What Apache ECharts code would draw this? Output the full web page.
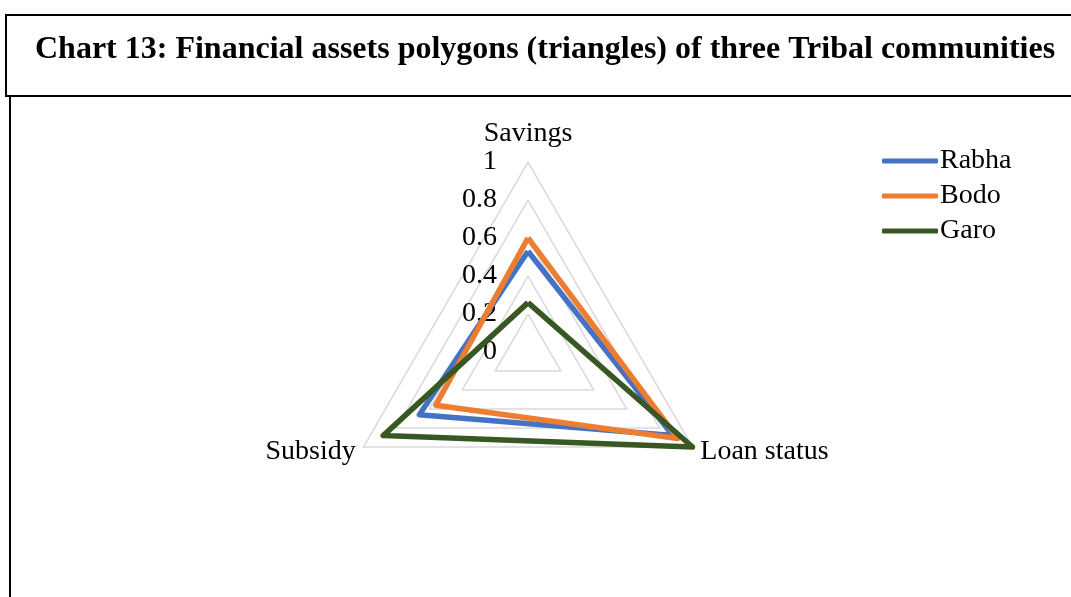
<!DOCTYPE html>
<html>
<head>
<meta charset="utf-8">
<script src="https://cdn.jsdelivr.net/npm/echarts@6/dist/echarts.min.js"></script>
<style>
  html, body { margin: 0; padding: 0; background: #fff; }
  #chart { width: 1071px; height: 597px; }
</style>
</head>
<body>
<div id="chart"></div>
<script>
// radar axes, in ECharts order (counter-clockwise from the top)
const axes = ["Savings", "Subsidy", "Loan status"];
const tickLabels = ["0", "0.2", "0.4", "0.6", "0.8", "1"];

const rabha = [0.53, 0.66, 0.88];
const bodo = [0.6, 0.56, 0.91];
const garo = [0.26, 0.88, 1.0];

const seriesNames = ["Rabha", "Bodo", "Garo"];
const colors = ["#4472c4", "#ed7d31", "#385723"];

const font = "'Liberation Serif', 'Times New Roman', serif";

let myChart = echarts.init(document.getElementById("chart"));
const option = {
  animation: false,
  color: colors,
  title: {
    text: "Chart 13: Financial assets polygons (triangles) of three Tribal communities",
    left: 30,
    top: 29,
    textStyle: { fontFamily: font, fontSize: 32, fontWeight: "bold", color: "#000" }
  },
  // boxes around the title and the plot area
  graphic: [
    { type: "rect", shape: { x: 6, y: 15, width: 1100, height: 81 },
      style: { fill: null, stroke: "#000", lineWidth: 2 } },
    { type: "line", shape: { x1: 10, y1: 96, x2: 10, y2: 620 },
      style: { stroke: "#000", lineWidth: 2 } }
  ],
  legend: {
    orient: "vertical",
    left: 877,
    top: 142,
    itemWidth: 56,
    itemHeight: 5,
    itemGap: 7,
    icon: "roundRect",
    textStyle: { fontFamily: font, fontSize: 28, color: "#000", padding: [0, 0, 0, -3] },
    data: seriesNames
  },
  radar: {
    center: [528, 352],
    radius: 190,
    shape: "polygon",
    splitNumber: 5,
    axisName: { fontFamily: font, fontSize: 28, color: "#000" },
    nameGap: 9,
    axisLine: { show: false },
    axisTick: { show: false },
    axisLabel: { show: false },
    splitArea: { show: false },
    splitLine: { lineStyle: { color: "#d9d9d9", width: 1.5 } },
    indicator: axes.map(function (name, i) {
      const ind = { name: name, min: 0, max: 1 };
      if (i === 0) {
        ind.axisLabel = {
          show: true,
          margin: 31,
          fontFamily: font,
          fontSize: 28,
          color: "#000",
          formatter: function (v) {
            return tickLabels[Math.round(v * 5)];
          }
        };
      }
      return ind;
    })
  },
  series: [
    {
      type: "radar",
      symbol: "none",
      lineStyle: { width: 5.5 },
      data: [
        { name: seriesNames[0], value: rabha },
        { name: seriesNames[1], value: bodo },
        { name: seriesNames[2], value: garo }
      ]
    }
  ]
};
myChart.setOption(option);
</script>
</body>
</html>
